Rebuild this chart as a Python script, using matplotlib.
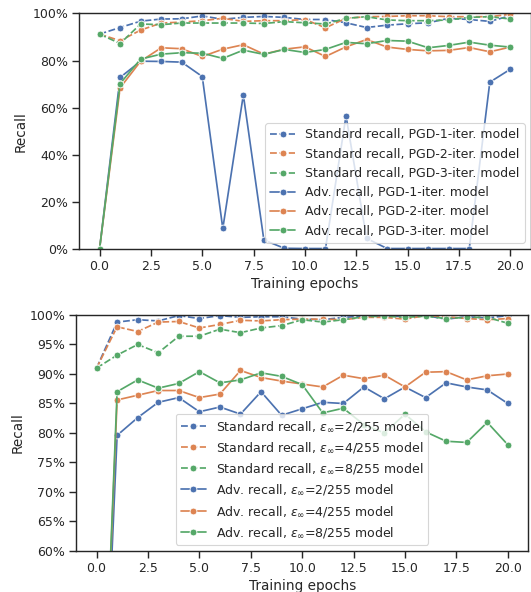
import numpy as np
import matplotlib
matplotlib.use("Agg")
import matplotlib.pyplot as plt
from matplotlib.ticker import PercentFormatter
import seaborn as sns

epochs = list(range(21))

# top panel: PGD iterations
std_pgd1 = [91.2, 94.0, 96.7, 97.6, 97.7, 98.9, 97.5, 98.3, 98.7, 98.3, 97.4,
            97.4, 96.0, 94.0, 95.0, 95.6, 96.0, 97.9, 97.4, 96.6, 99.0]
std_pgd2 = [91.2, 88.4, 92.9, 95.9, 96.3, 96.9, 97.9, 96.6, 96.9, 96.9, 97.4,
            93.9, 97.9, 98.6, 98.7, 99.0, 99.0, 98.6, 98.6, 98.6, 99.6]
std_pgd3 = [91.2, 87.2, 95.5, 95.2, 95.9, 95.9, 95.9, 95.9, 95.7, 96.5, 96.0,
            95.5, 97.9, 98.6, 97.2, 96.9, 96.9, 97.2, 98.3, 98.6, 97.6]
adv_pgd1 = [0.0, 72.8, 79.7, 79.6, 79.3, 73.2, 8.7, 65.4, 3.8, 0.3, 0.2,
            0.2, 56.5, 4.5, 0.2, 0.2, 0.2, 0.2, 0.2, 70.8, 76.3]
adv_pgd2 = [0.0, 68.4, 79.7, 85.4, 85.0, 81.7, 84.8, 86.7, 82.7, 84.8, 85.8,
            81.7, 85.8, 88.9, 85.7, 84.7, 84.1, 84.3, 85.5, 83.7, 85.7]
adv_pgd3 = [0.0, 70.2, 80.6, 82.7, 83.3, 83.1, 80.9, 84.4, 82.6, 84.7, 83.4,
            84.7, 87.7, 87.1, 88.5, 88.2, 85.4, 86.4, 87.8, 86.5, 85.7]
pgd_names = ["PGD-1-iter.", "PGD-2-iter.", "PGD-3-iter."]

# bottom panel: epsilon budgets
std_eps2 = [91.0, 98.8, 99.2, 99.0, 99.9, 99.4, 99.9, 99.6, 99.7, 99.7, 99.3,
            99.2, 99.6, 99.8, 99.8, 99.8, 99.9, 99.3, 99.7, 99.5, 99.9]
std_eps4 = [91.0, 98.0, 97.2, 98.8, 98.9, 97.8, 98.4, 99.1, 99.0, 99.2, 99.3,
            99.3, 99.2, 99.6, 99.6, 99.3, 99.9, 99.7, 99.4, 99.2, 99.4]
std_eps8 = [91.0, 93.2, 95.0, 93.6, 96.4, 96.4, 97.6, 97.0, 97.8, 98.2, 99.2,
            98.8, 99.2, 99.7, 99.8, 99.6, 99.8, 99.4, 99.6, 99.6, 98.6]
adv_eps2 = [0.0, 79.6, 82.6, 85.2, 86.0, 83.6, 84.4, 83.2, 87.0, 83.0, 84.1,
            85.2, 85.0, 87.8, 85.8, 87.8, 86.0, 88.5, 87.8, 87.3, 85.0]
adv_eps4 = [0.0, 85.6, 86.4, 87.2, 87.2, 86.0, 86.6, 90.6, 89.4, 88.8, 88.3,
            87.8, 89.8, 89.2, 89.8, 87.8, 90.3, 90.4, 89.0, 89.7, 90.0]
adv_eps8 = [0.0, 87.0, 89.0, 87.6, 88.4, 90.4, 88.5, 89.0, 90.2, 89.6, 88.2,
            83.4, 84.2, 81.4, 80.0, 83.2, 80.2, 78.6, 78.4, 81.8, 78.0]
eps_names = ["2/255", "4/255", "8/255"]

sns.set_theme(style="ticks", context="notebook", palette="deep")
colors = sns.color_palette("deep")

dpi = 82
fig = plt.figure(figsize=(531 / dpi, 592 / dpi), dpi=dpi)
ax1 = fig.add_axes([0.1488, 0.5794, 0.851, 0.398])
ax2 = fig.add_axes([0.1431, 0.0693, 0.852, 0.3986])

line_kw = dict(marker="o", markeredgecolor="w", markeredgewidth=0.75)

def draw(ax, std, adv, labels_std, labels_adv):
    for i, vals in enumerate(std):
        ln, = ax.plot(epochs, vals, color=colors[i], label=labels_std[i], **line_kw)
        ln.set_dashes((4, 1.5))
    for i, vals in enumerate(adv):
        ax.plot(epochs, vals, color=colors[i], label=labels_adv[i], **line_kw)
    ax.set_xlabel("Training epochs")
    ax.set_ylabel("Recall")
    ax.yaxis.set_major_formatter(PercentFormatter(100, decimals=0))

draw(ax1, [std_pgd1, std_pgd2, std_pgd3], [adv_pgd1, adv_pgd2, adv_pgd3],
     ["Standard recall, %s model" % n for n in pgd_names],
     ["Adv. recall, %s model" % n for n in pgd_names])
ax1.set_ylim(0, 100)
ax1.set_xlim(-1, 21)
ax1.legend(loc="lower right")

draw(ax2, [std_eps2, std_eps4, std_eps8], [adv_eps2, adv_eps4, adv_eps8],
     [r"Standard recall, $\varepsilon_\infty$=%s model" % n for n in eps_names],
     [r"Adv. recall, $\varepsilon_\infty$=%s model" % n for n in eps_names])
ax2.set_ylim(60, 100)
ax2.set_xlim(-1, 21)
ax2.legend(loc="lower center")

fig.savefig("out.png", dpi=dpi)
